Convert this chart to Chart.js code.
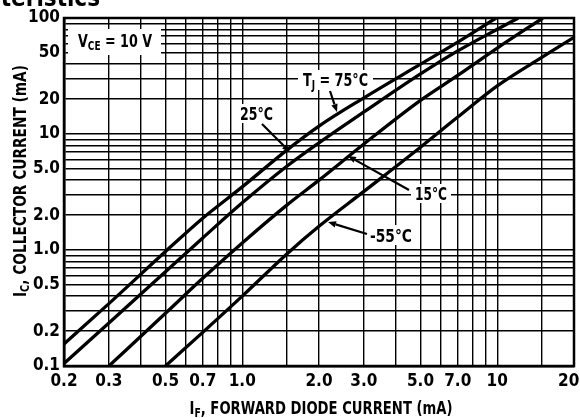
<!DOCTYPE html>
<html><head><meta charset="utf-8">
<script src="https://cdn.jsdelivr.net/npm/chart.js@4/dist/chart.umd.min.js"></script>
<style>html,body{margin:0;padding:0;background:#fff;}#wrap{width:580px;height:418px;}</style>
</head><body><div id="wrap"><canvas id="c" width="580" height="418"></canvas></div>
<script>
// ---------- data ----------
const xGrid = [0.2,0.3,0.4,0.5,0.6,0.7,0.8,0.9,1.0,1.5,2,3,4,5,6,7,8,9,10,15,20];
const xTickValues = [0.2,0.3,0.5,0.7,1,2,3,5,7,10,20];
const xTickText   = ['0.2','0.3','0.5','0.7','1.0','2.0','3.0','5.0','7.0','10','20  '];
const yGrid = [0.1,0.2,0.3,0.4,0.5,0.6,0.7,0.8,0.9,1,2,3,4,5,6,7,8,9,10,20,30,40,50,60,70,80,90,100];
const yTickValues = [0.1,0.2,0.5,1,2,5,10,20,50,100];
const yTickText   = ['0.1','0.2','0.5','1.0','2.0','5.0','10','20','50','100'];

const seriesNames = ['TJ = 75°C','25°C','15°C','-55°C'];
const ifT75  = [0.2,0.3,0.5,0.7,1.0,1.5,2.0,3.0,5.0,7.0,9.9];
const icT75  = [0.155,0.345,0.97,1.88,3.5,7.3,11.7,20.5,40,62,100];
const ifT25  = [0.2,0.3,0.5,0.7,1.0,1.5,2.0,3.0,5.0,7.0,10,12.1];
const icT25  = [0.105,0.235,0.65,1.27,2.55,5.3,8.4,15.5,33,52,80,100];
const ifT15  = [0.3,0.5,0.7,1.0,1.5,2.0,3.0,5.0,7.0,10,15.1];
const icT15  = [0.1,0.285,0.57,1.15,2.45,4.0,8.2,19.5,32,55,100];
const ifTm55 = [0.5,0.7,1.0,1.5,2.0,3.0,5.0,7.0,10,15,20];
const icTm55 = [0.1,0.195,0.4,0.93,1.6,3.2,7.7,14.0,26,46,68];

// ---------- helpers ----------
const FF = "'Liberation Sans Narrow','Arial Narrow','DejaVu Sans Condensed','Liberation Sans',sans-serif";
const pts = (xs, ys) => xs.map((x,i)=>({x:x, y:ys[i]}));
const near = (a,b) => Math.abs(a-b) < 1e-9*Math.max(1,Math.abs(b));
function labelFor(v, vals, txt){ for(let i=0;i<vals.length;i++){ if(near(v,vals[i])) return txt[i]; } return ''; }

function drawParts(ctx, parts, x, y, targetW, align){
  let w = 0;
  parts.forEach(p=>{ ctx.font = 'bold '+p.s+'px '+FF; p.w = ctx.measureText(p.t).width; w += p.w; });
  const sx = targetW ? targetW / w : 1;
  ctx.save();
  ctx.translate(x, y);
  ctx.scale(sx, 1);
  let cx = align === 'center' ? -w/2 : 0;
  ctx.fillStyle = '#000';
  ctx.textBaseline = 'alphabetic';
  ctx.textAlign = 'left';
  parts.forEach(p=>{ ctx.font = 'bold '+p.s+'px '+FF; ctx.fillText(p.t, cx, p.dy||0); cx += p.w; });
  ctx.restore();
}
function arrow(ctx, x1,y1,x2,y2){
  ctx.save();
  ctx.strokeStyle='#000'; ctx.fillStyle='#000'; ctx.lineWidth=2.2;
  const a = Math.atan2(y2-y1, x2-x1), L=8, W=3.2;
  const bx = x2 - L*Math.cos(a), by = y2 - L*Math.sin(a);
  ctx.beginPath(); ctx.moveTo(x1,y1); ctx.lineTo(bx,by); ctx.stroke();
  ctx.beginPath();
  ctx.moveTo(x2,y2);
  ctx.lineTo(bx + W*Math.sin(a), by - W*Math.cos(a));
  ctx.lineTo(bx - W*Math.sin(a), by + W*Math.cos(a));
  ctx.closePath(); ctx.fill();
  ctx.restore();
}
function whiteBox(ctx,x,y,w,h){ ctx.save(); ctx.fillStyle='#fff'; ctx.fillRect(x,y,w,h); ctx.restore(); }

const decorPlugin = {
  id:'decor',
  afterDraw(chart){
    const ctx = chart.ctx, a = chart.chartArea;
    // frame
    ctx.save(); ctx.strokeStyle='#000'; ctx.lineWidth=2.5;
    ctx.strokeRect(a.left, a.top, a.right-a.left, a.bottom-a.top); ctx.restore();
    // partial heading at top
    ctx.save(); ctx.fillStyle='#000'; ctx.font='bold 24px '+FF; ctx.textAlign='right';
    ctx.fillText('Characteristics', 100, 6); ctx.restore();
    // annotation boxes
    whiteBox(ctx, 68, 29, 93, 26);
    drawParts(ctx, [{t:'V',s:17},{t:'CE',s:12,dy:3},{t:' = 10 V',s:17}], 78, 47, 74);
    whiteBox(ctx, 298, 70, 75, 20);
    drawParts(ctx, [{t:'T',s:17},{t:'J',s:12,dy:3},{t:' = 75°C',s:17}], 303, 86, 65);
    arrow(ctx, 330, 91, 337, 112);
    whiteBox(ctx, 237, 104, 39, 19);
    drawParts(ctx, [{t:'25°C',s:17}], 240, 120, 33);
    arrow(ctx, 262, 124, 290, 152);
    whiteBox(ctx, 411, 184, 40, 19);
    drawParts(ctx, [{t:'15°C',s:17}], 415, 200, 32);
    arrow(ctx, 409, 190, 348, 156);
    whiteBox(ctx, 366, 225, 49, 20);
    drawParts(ctx, [{t:'-55°C',s:17}], 370, 242, 42);
    arrow(ctx, 367, 234, 328, 222);
    // axis titles
    drawParts(ctx, [{t:'I',s:17},{t:'F',s:12,dy:3},{t:', FORWARD DIODE CURRENT (mA)',s:17}], 321, 414, 263, 'center');
    ctx.save(); ctx.translate(26, 181); ctx.rotate(-Math.PI/2);
    drawParts(ctx, [{t:'I',s:17},{t:'C',s:12,dy:3},{t:', COLLECTOR CURRENT (mA)',s:17}], 0, 0, 232, 'center');
    ctx.restore();
  }
};

const lineStyle = {borderColor:'#000', backgroundColor:'#000', borderWidth:3.3, pointRadius:0, fill:false, cubicInterpolationMode:'monotone'};

new Chart(document.getElementById('c'), {
  type:'line',
  data:{ datasets:[
    Object.assign({label:seriesNames[0], data:pts(ifT75, icT75)}, lineStyle),
    Object.assign({label:seriesNames[1], data:pts(ifT25, icT25)}, lineStyle),
    Object.assign({label:seriesNames[2], data:pts(ifT15, icT15)}, lineStyle),
    Object.assign({label:seriesNames[3], data:pts(ifTm55, icTm55)}, lineStyle)
  ]},
  options:{
    responsive:false, animation:false, devicePixelRatio:1,
    layout:{padding:{left:0,right:6,top:18,bottom:0}},
    plugins:{legend:{display:false}, tooltip:{enabled:false}},
    scales:{
      x:{ type:'logarithmic', min:0.2, max:20,
        afterBuildTicks:s=>{ s.ticks = xGrid.map(v=>({value:v})); },
        afterFit:s=>{ s.height = 52; s.paddingLeft = 0; s.paddingRight = 0; },
        ticks:{ autoSkip:false, maxRotation:0, minRotation:0, padding:5, color:'#000',
          font:{family:FF, size:17, weight:'bold'},
          callback:v=>labelFor(v, xTickValues, xTickText) },
        grid:{ color:'#000', lineWidth:1.4, drawTicks:false },
        border:{ display:true, color:'#000', width:2.5 }
      },
      y:{ type:'logarithmic', min:0.1, max:100,
        afterBuildTicks:s=>{ s.ticks = yGrid.map(v=>({value:v})); },
        afterFit:s=>{ s.width = 64; s.paddingTop = 0; s.paddingBottom = 0; },
        ticks:{ autoSkip:false, padding:4, color:'#000',
          font:{family:FF, size:17, weight:'bold'},
          callback:v=>labelFor(v, yTickValues, yTickText) },
        grid:{ color:'#000', lineWidth:1.4, drawTicks:false },
        border:{ display:true, color:'#000', width:2.5 }
      }
    }
  },
  plugins:[decorPlugin]
});
</script></body></html>
